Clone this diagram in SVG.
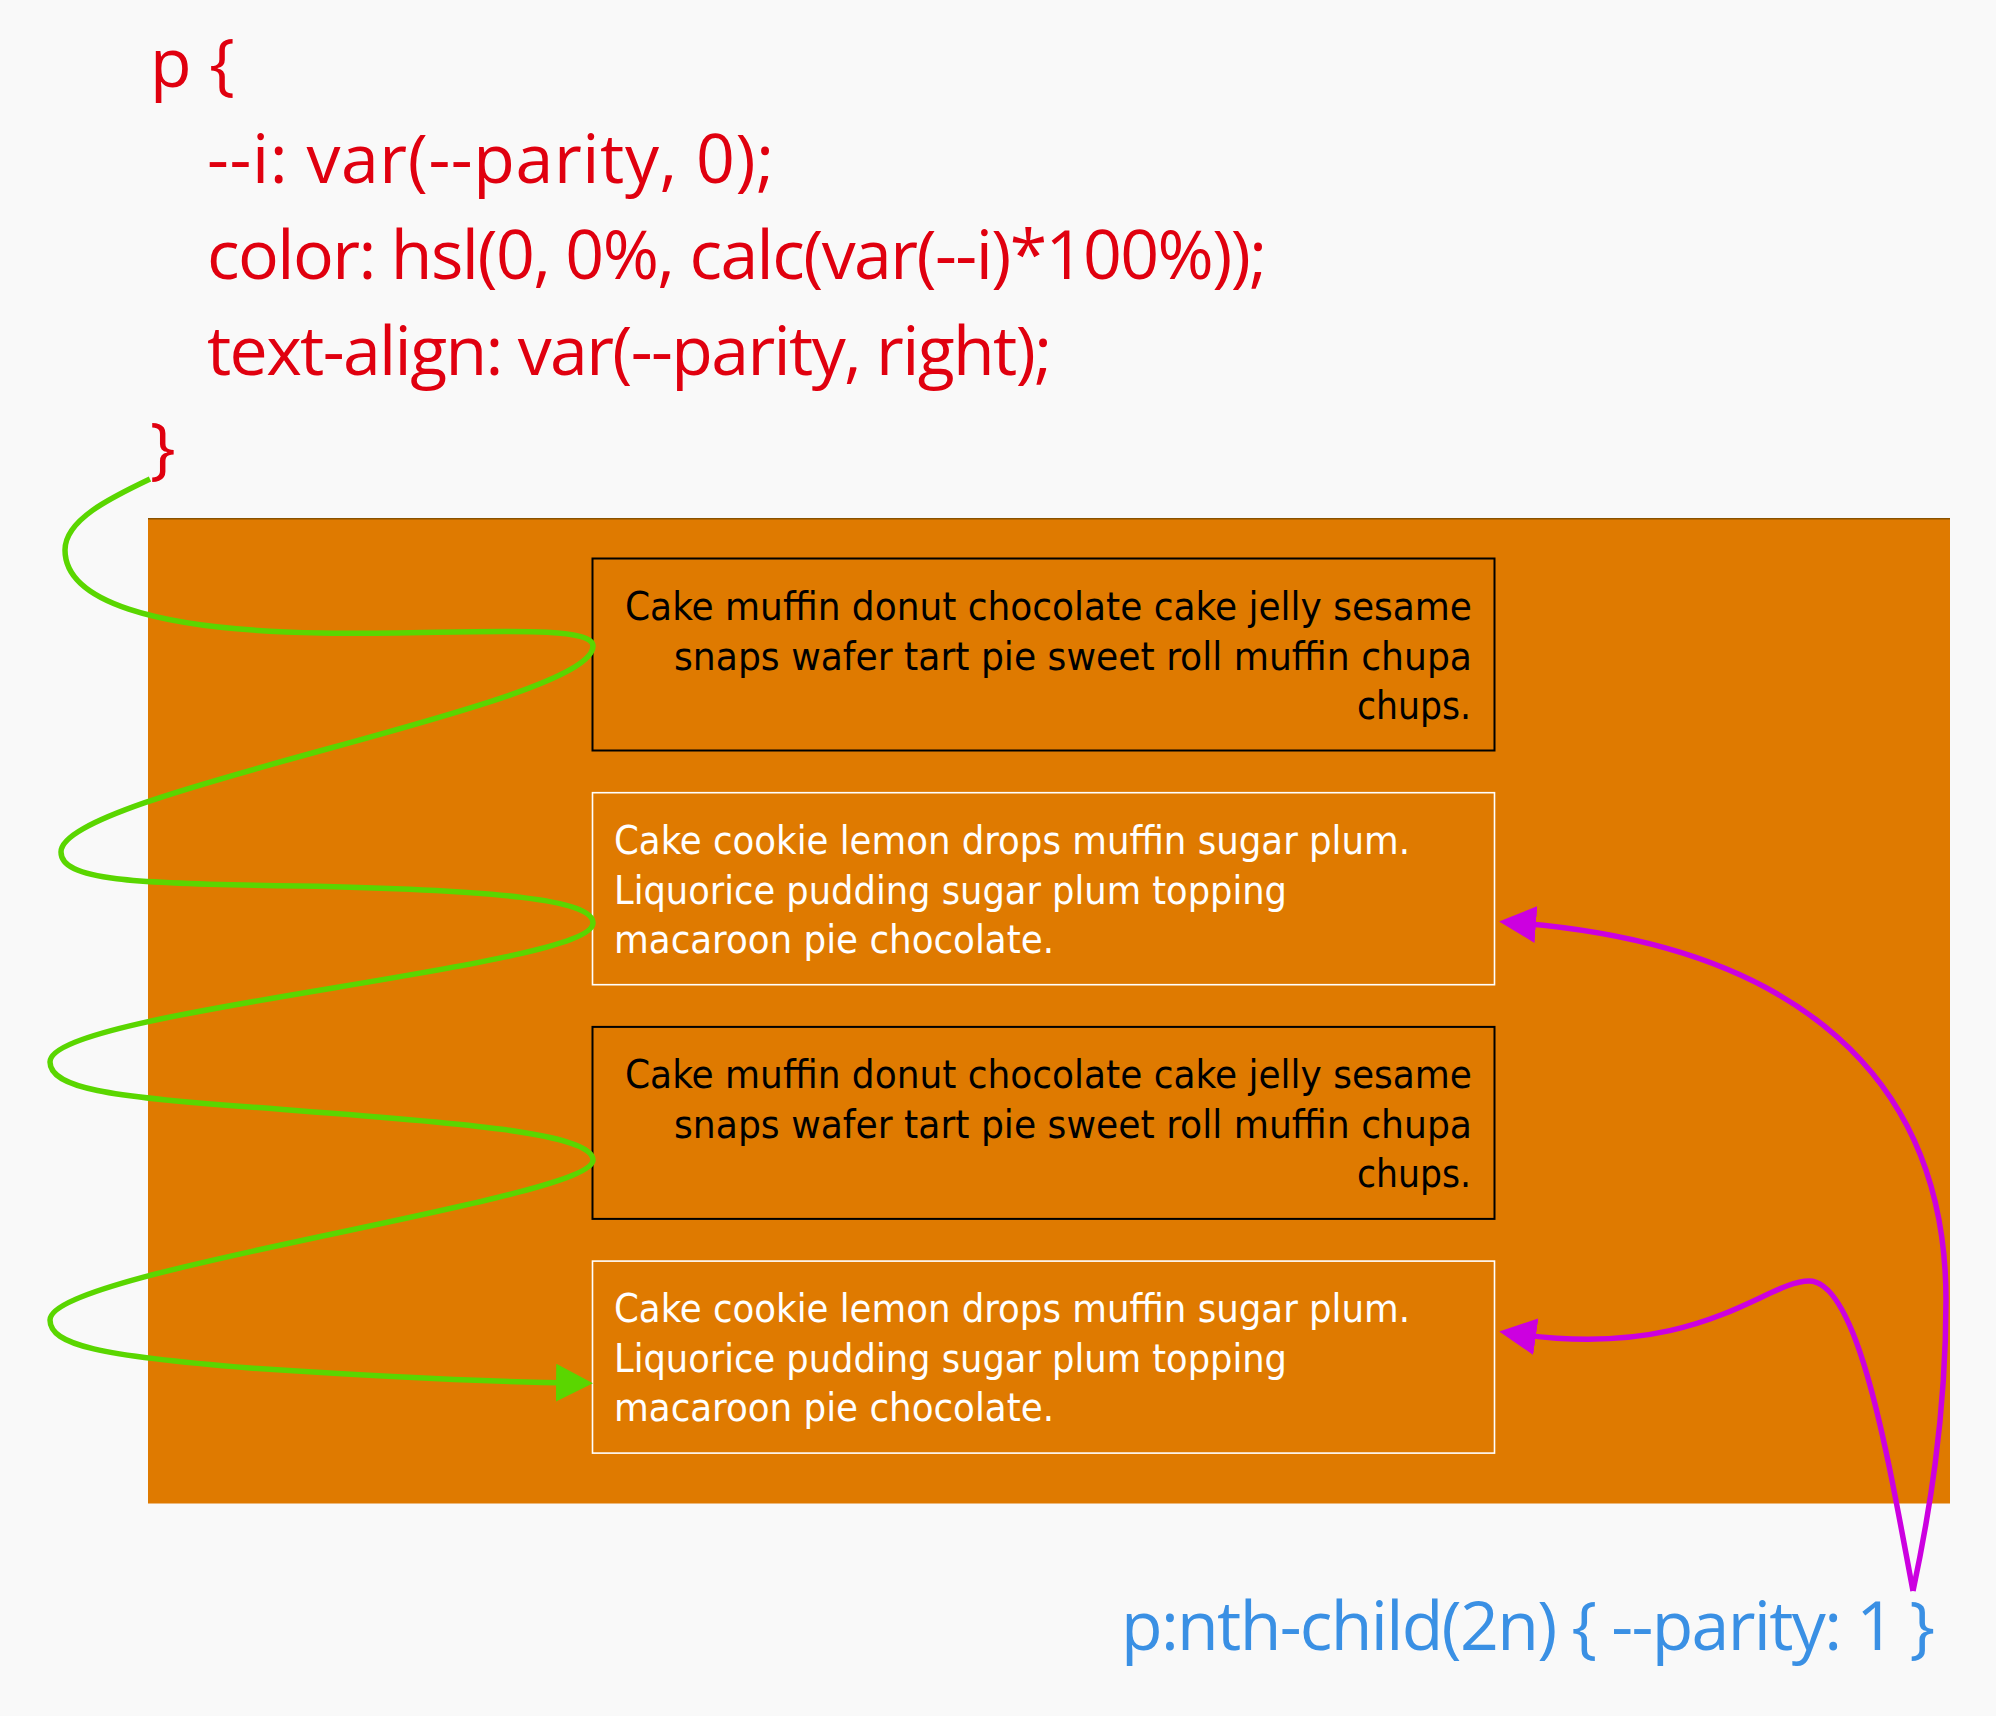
<svg xmlns="http://www.w3.org/2000/svg" width="1996" height="1716" viewBox="0 0 1996 1716">
<defs>
<style>
.code{font-family:"Open Sans","DejaVu Sans",sans-serif;font-size:68px;font-weight:400;}
.red{fill:#e0000f;}
.blue{fill:#3a90e4;}
.body{font-family:"DejaVu Sans","Liberation Sans",sans-serif;font-stretch:condensed;font-size:39px;}
.dark{fill:#000000;}
.light{fill:#ffffff;}
.boxOdd{fill:none;stroke:#000000;stroke-width:2;}
.boxEven{fill:none;stroke:#ffffff;stroke-width:1.6;}
.green{fill:none;stroke:#5ad600;stroke-width:5.5;}
.magenta{fill:none;stroke:#cc00e0;stroke-width:5.5;}
</style>
<marker id="ahGreen" markerUnits="userSpaceOnUse" markerWidth="37" markerHeight="38" viewBox="0 0 37 38" refX="19" refY="19" orient="auto">
<path d="M0,0 L37,19 L0,38 z" fill="#5ad600"/>
</marker>
<marker id="ahMagenta" markerUnits="userSpaceOnUse" markerWidth="37" markerHeight="37" viewBox="0 0 37 37" refX="19" refY="18.5" orient="auto">
<path d="M0,0 L37,18.5 L0,37 z" fill="#cc00e0"/>
</marker>
</defs>
<rect x="0" y="0" width="1996" height="1716" fill="#f9f9f9"/>

<g id="code-p">
<text class="code red" x="150" y="87">p {</text>
<text class="code red" x="207" y="183" textLength="567" lengthAdjust="spacing">--i: var(--parity, 0);</text>
<text class="code red" x="207" y="279" textLength="1060" lengthAdjust="spacing">color: hsl(0, 0%, calc(var(--i)*100%));</text>
<text class="code red" x="207" y="375" textLength="845" lengthAdjust="spacing">text-align: var(--parity, right);</text>
<text class="code red" x="150" y="471">}</text>
</g>

<g id="container">
<rect x="148" y="518" width="1802" height="985.5" fill="#df7a00"/>
<line x1="148" y1="518.8" x2="1950" y2="518.8" stroke="#8a5200" stroke-width="1.6"/>
</g>

<g id="p1">
<rect class="boxOdd" x="592.5" y="558.5" width="902" height="192"/>
<text class="body dark" x="625" y="620" textLength="847" lengthAdjust="spacingAndGlyphs">Cake muffin donut chocolate cake jelly sesame</text>
<text class="body dark" x="674" y="669.5" textLength="798" lengthAdjust="spacingAndGlyphs">snaps wafer tart pie sweet roll muffin chupa</text>
<text class="body dark" x="1357" y="719" textLength="114" lengthAdjust="spacingAndGlyphs">chups.</text>
</g>

<g id="p2">
<rect class="boxEven" x="592.5" y="792.7" width="902" height="192"/>
<text class="body light" x="614" y="854" textLength="796" lengthAdjust="spacingAndGlyphs">Cake cookie lemon drops muffin sugar plum.</text>
<text class="body light" x="614" y="903.5" textLength="673" lengthAdjust="spacingAndGlyphs">Liquorice pudding sugar plum topping</text>
<text class="body light" x="614" y="953" textLength="440" lengthAdjust="spacingAndGlyphs">macaroon pie chocolate.</text>
</g>

<g id="p3">
<rect class="boxOdd" x="592.5" y="1026.9" width="902" height="192"/>
<text class="body dark" x="625" y="1088.4" textLength="847" lengthAdjust="spacingAndGlyphs">Cake muffin donut chocolate cake jelly sesame</text>
<text class="body dark" x="674" y="1137.9" textLength="798" lengthAdjust="spacingAndGlyphs">snaps wafer tart pie sweet roll muffin chupa</text>
<text class="body dark" x="1357" y="1187.4" textLength="114" lengthAdjust="spacingAndGlyphs">chups.</text>
</g>

<g id="p4">
<rect class="boxEven" x="592.5" y="1261.1" width="902" height="192"/>
<text class="body light" x="614" y="1322.4" textLength="796" lengthAdjust="spacingAndGlyphs">Cake cookie lemon drops muffin sugar plum.</text>
<text class="body light" x="614" y="1371.9" textLength="673" lengthAdjust="spacingAndGlyphs">Liquorice pudding sugar plum topping</text>
<text class="body light" x="614" y="1421.4" textLength="440" lengthAdjust="spacingAndGlyphs">macaroon pie chocolate.</text>
</g>

<g id="code-nth-child">
<text class="code blue" x="1121" y="1650" textLength="814" lengthAdjust="spacing">p:nth-child(2n) { --parity: 1 }</text>
</g>

<g id="connectors">
<path class="green" marker-end="url(#ahGreen)" d="M150,479 C110,498 65,520 65,550 C65,600 150,630 320,633 C450,635 593,622 593,646 C593,706 61,792 61,852 C61,880 130,884 300,886 C500,890 593,900 593,923 C593,968 50,1010 50,1062 C50,1088 110,1097 250,1107 C420,1120 593,1130 593,1160 C593,1200 50,1270 50,1320 C50,1345 100,1356 250,1368 C400,1378 500,1382 575,1383"/>
<path class="magenta" marker-end="url(#ahMagenta)" d="M1913,1591 C1928,1520 1946,1420 1946,1300 C1946,1080 1800,945 1517,923"/>
<path class="magenta" marker-end="url(#ahMagenta)" d="M1913,1591 C1890,1470 1860,1281 1809,1281 C1765,1281 1700,1360 1517,1334"/>
</g>
</svg>
